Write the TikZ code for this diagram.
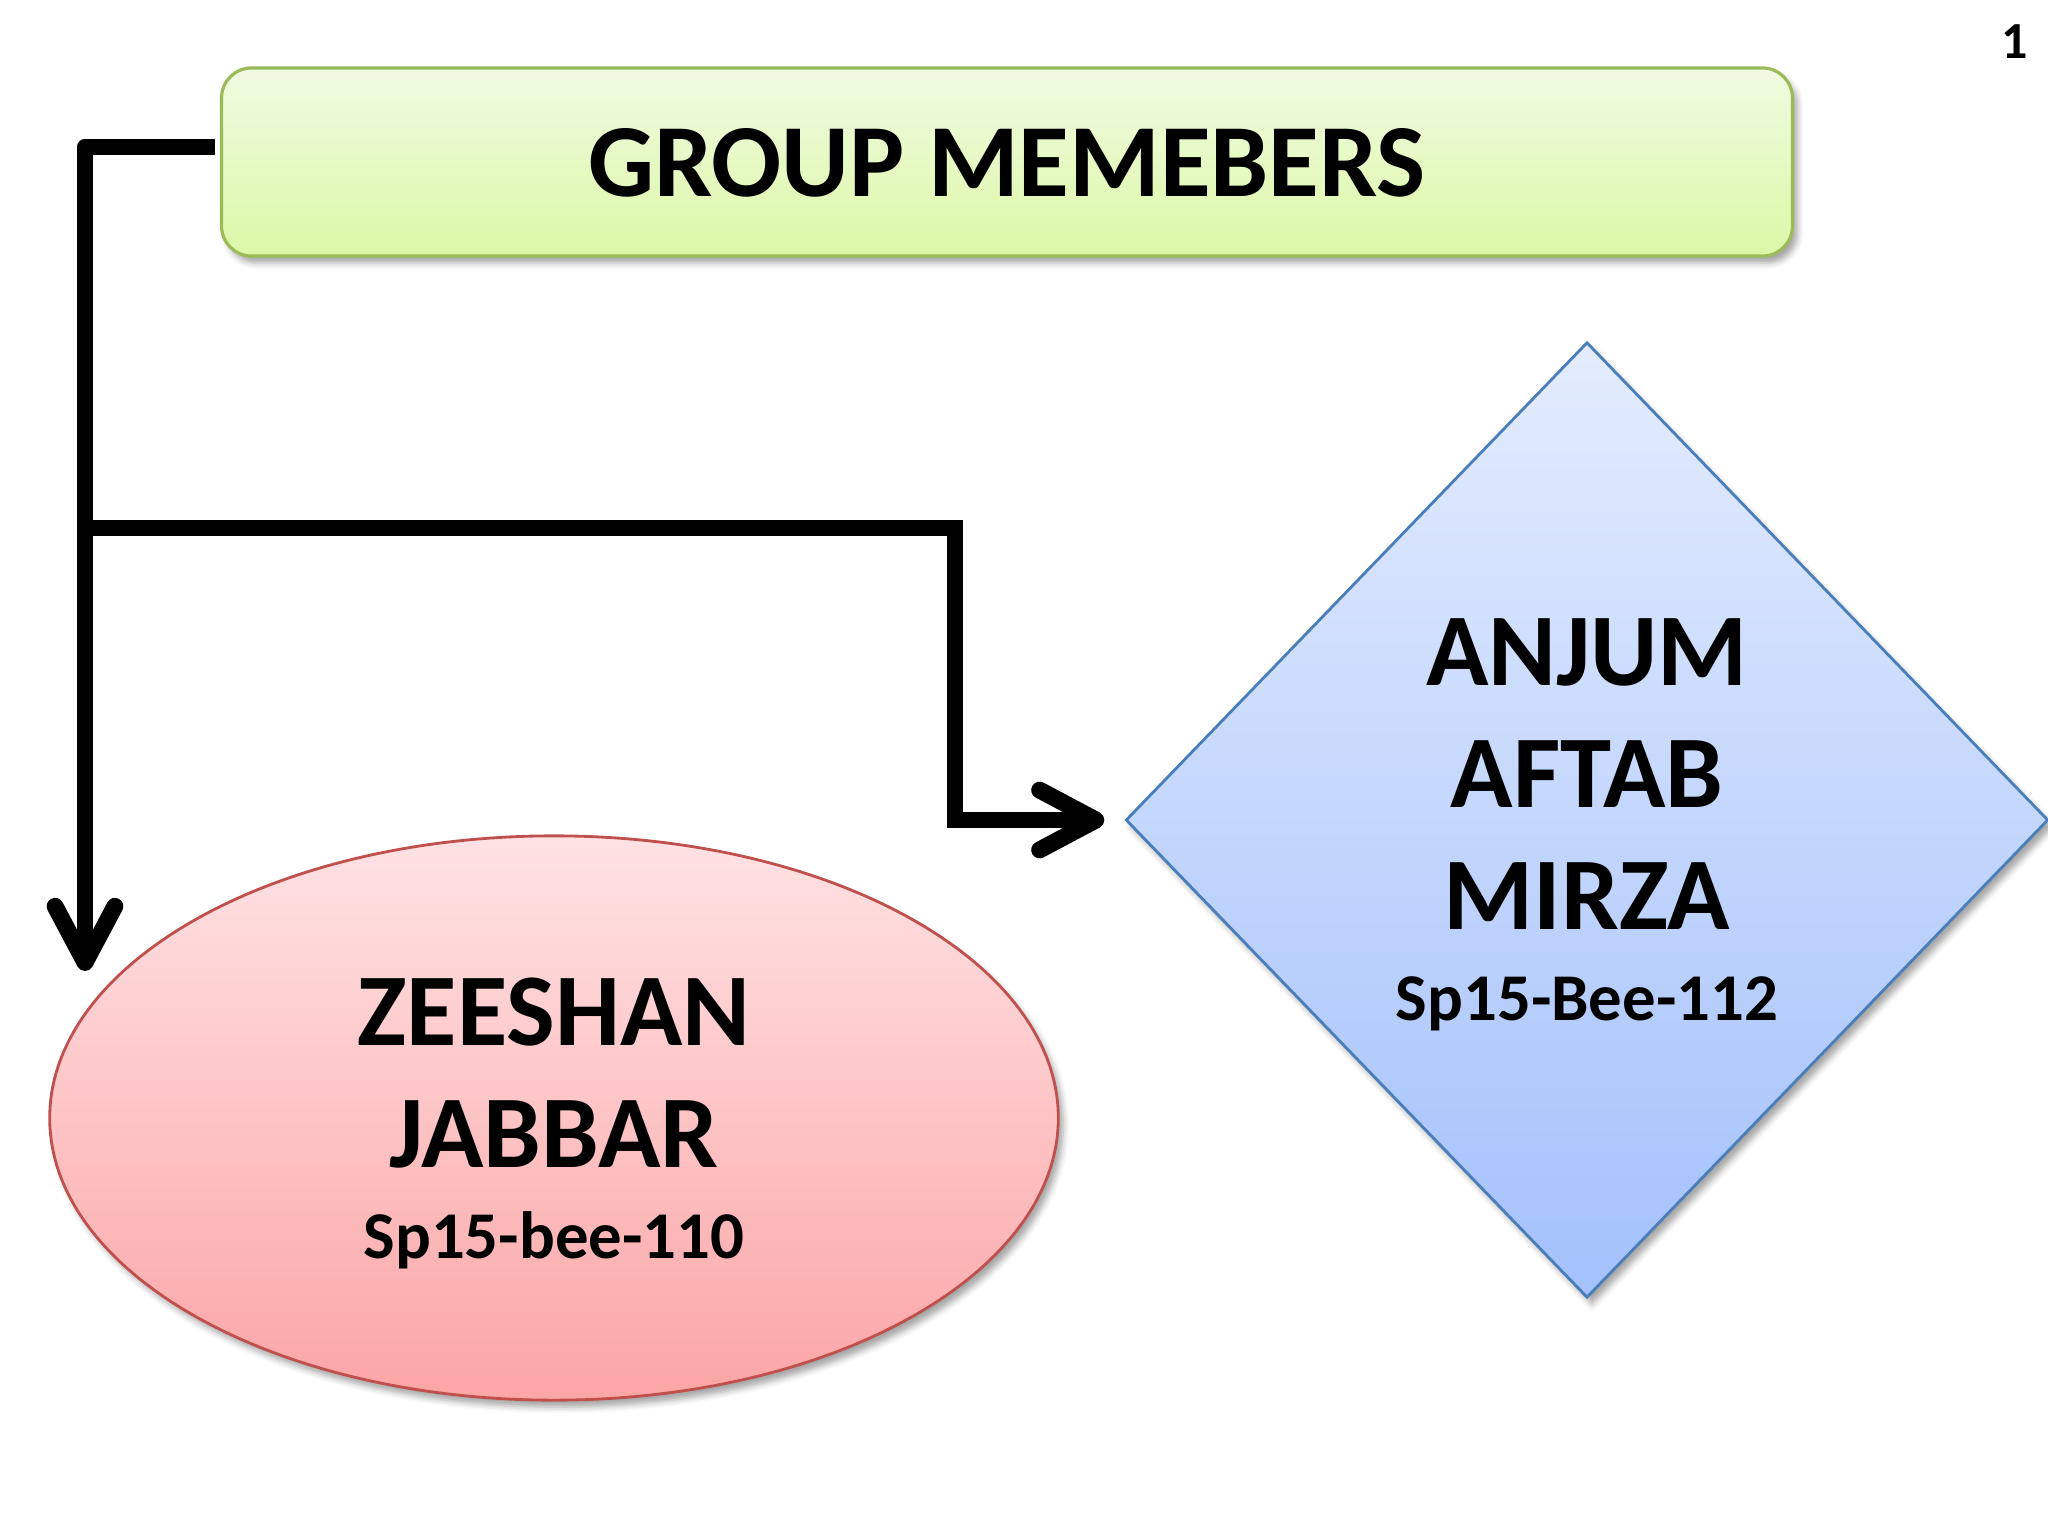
\documentclass[tikz,border=0pt]{standalone}
\usepackage{fontspec}
\setmainfont{Carlito}
\usetikzlibrary{shapes.geometric, arrows.meta, shadows.blur}

\definecolor{titletop}{HTML}{F0FBE2}
\definecolor{titlebot}{HTML}{DCF8A6}
\definecolor{titleline}{HTML}{9BBB59}
\definecolor{pinktop}{HTML}{FFE2E4}
\definecolor{pinkbot}{HTML}{FBA5A6}
\definecolor{pinkline}{HTML}{C0504D}
\definecolor{bluetop}{HTML}{E4ECFD}
\definecolor{bluebot}{HTML}{A3C1FC}
\definecolor{blueline}{HTML}{4A7EBB}

\newcommand{\rollfont}{\fontsize{19pt}{22pt}\selectfont\bfseries}

\begin{document}
\begin{tikzpicture}[
        x=0.01cm, y=-0.01cm,
        soft shadow/.style={blur shadow={shadow xshift=0.5mm, shadow yshift=-0.7mm,
                shadow blur radius=0.6mm, shadow opacity=35}},
        titlebox/.style={rectangle, rounded corners=0.3cm, draw=titleline, line width=0.9pt,
                top color=titletop, bottom color=titlebot, soft shadow, text depth=-2pt,
                minimum width=15.7cm, minimum height=1.88cm, inner sep=0pt},
        member/.style={align=center, inner sep=0pt, soft shadow, text depth=-6pt,
                font=\fontsize{29.3pt}{34.7pt}\selectfont\bfseries},
        link/.style={draw=black, line width=4.8pt},
        >={Straight Barb[length=16pt, width=17pt, line cap=round, line join=round]}
    ]

    \useasboundingbox (0,0) rectangle (2048,1536);

    %% ---- Heading ----
    \node[titlebox, font=\fontsize{29.5pt}{34pt}\selectfont\bfseries] (title) at (1007,162) {GROUP MEMEBERS};

    %% ---- Members ----
    \node[member, ellipse, draw=pinkline, line width=0.8pt, top color=pinktop, bottom color=pinkbot,
        minimum width=10.08cm, minimum height=5.64cm] (zeeshan) at (554,1118)
        {ZEESHAN\\JABBAR\\[-8.8pt]{\rollfont Sp15-bee-110}};

    \node[member, diamond, draw=blueline, line width=0.8pt, top color=bluetop, bottom color=bluebot,
        minimum width=9.22cm, minimum height=9.55cm] (anjum) at (1587,820)
        {ANJUM\\AFTAB\\MIRZA\\[-8.8pt]{\rollfont Sp15-Bee-112}};

    %% ---- Page number ----
    \node[font=\fontsize{14.8pt}{17pt}\selectfont\bfseries] (pageno) at (2015,42) {1};

    %% ---- Connectors ----
    \coordinate (fork) at (85,528);
    \coordinate (drop) at (955,820);
    \coordinate (zeetip) at (85,971);

    \draw[link, line join=round, ->] ([xshift=-0.05cm, yshift=0.15cm] title.west) -| (zeetip);
    \draw[link, ->] (fork) -| (drop) -- ([xshift=-0.2cm] anjum.west);

\end{tikzpicture}
\end{document}
